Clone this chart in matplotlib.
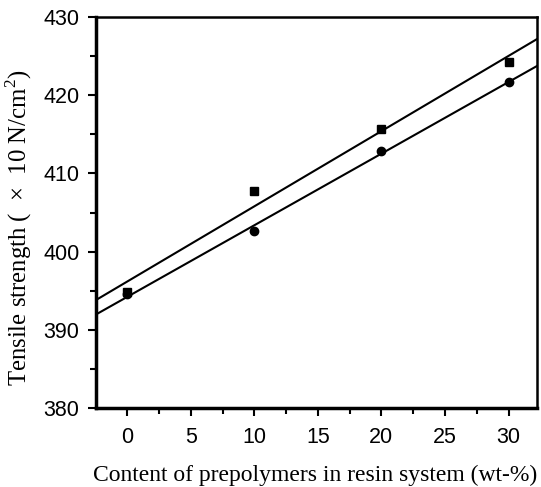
import numpy as np
import matplotlib.pyplot as plt
from matplotlib.ticker import MultipleLocator

plt.rcParams['mathtext.fontset'] = 'custom'
plt.rcParams['mathtext.rm'] = 'Liberation Serif'

# 数据
content = [0, 10, 20, 30]
strength_sq = [394.8, 407.7, 415.7, 424.2]
strength_ci = [394.6, 402.6, 412.9, 421.7]

fig = plt.figure(figsize=(5.41, 4.87), dpi=100)
ax = fig.add_axes([0.1775, 0.1622, 0.8142, 0.8028])

xlim = (-2.45, 32.2)
xx = np.array(xlim)
for ys, mk in [(strength_sq, 's'), (strength_ci, 'o')]:
    k, b = np.polyfit(content, ys, 1)
    ax.plot(xx, k * xx + b, color='black', lw=1.5)
    ax.plot(content, ys, mk, color='black', ms=6, ls='none')

ax.set_xlim(*xlim)
ax.set_ylim(380, 430)
ax.xaxis.set_major_locator(MultipleLocator(5))
ax.xaxis.set_minor_locator(MultipleLocator(2.5))
ax.yaxis.set_major_locator(MultipleLocator(10))
ax.yaxis.set_minor_locator(MultipleLocator(5))
ax.tick_params(which='major', direction='out', length=6, width=1.5,
               labelsize=15.5, top=False, right=False)
ax.tick_params(axis='x', which='major', pad=7.5)
ax.tick_params(axis='y', which='major', pad=6)
ax.tick_params(which='minor', direction='out', length=4, width=1.5,
               top=False, right=False)
for lab in ax.get_xticklabels() + ax.get_yticklabels():
    lab.set_family('Liberation Sans')
for s in ax.spines.values():
    s.set_linewidth(1.8)
ax.spines['left'].set_linewidth(2.5)
ax.spines['bottom'].set_linewidth(2.5)

ax.set_xlabel('Content of prepolymers in resin system (wt-%)',
              family='Liberation Serif', fontsize=17, labelpad=12)
ax.xaxis.set_label_coords(0.5, -0.145)
ax.xaxis.label.set_x(0.497)
ax.set_ylabel('Tensile strength (  ×  10 N/cm$^2$)',
              family='Liberation Serif', fontsize=17.8)
ax.yaxis.set_label_coords(-0.14, 0.46)

fig.savefig('out.png', dpi=100)
